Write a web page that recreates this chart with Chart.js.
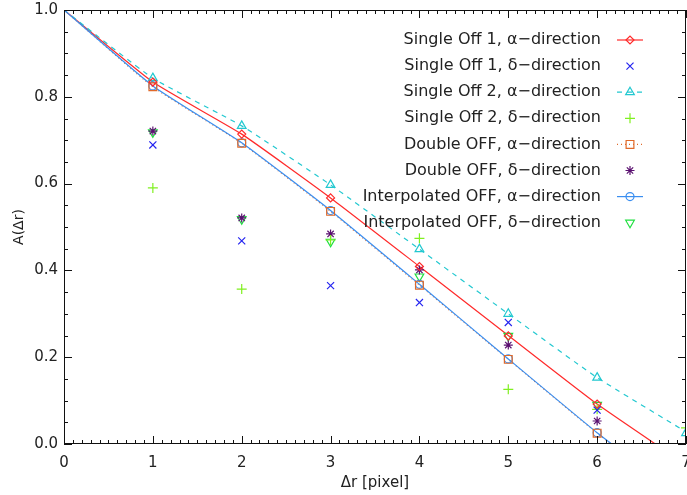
<!DOCTYPE html>
<html><head><meta charset="utf-8">
<script src="https://cdn.jsdelivr.net/npm/chart.js@4/dist/chart.umd.min.js"></script>
<style>html,body{margin:0;padding:0;background:#fff}#wrap{width:687px;height:495px}</style>
</head><body><div id="wrap"><canvas id="c" width="687" height="495"></canvas></div>
<script>
// x positions
const curveR = [0, 1, 2, 3, 4, 5, 6, 7];
const markR = [1, 2, 3, 4, 5, 6, 7];
// fitted curves
const curveSingle1Alpha = [1.0, 0.834, 0.714, 0.567, 0.409, 0.250, 0.092, -0.048];
const curveSingle2Alpha = [1.0, 0.843, 0.733, 0.597, 0.449, 0.300, 0.153, 0.028];
const curveDoubleAlpha  = [1.0, 0.823, 0.693, 0.536, 0.366, 0.195, 0.025, -0.130];
const curveInterpAlpha  = [1.0, 0.825, 0.694, 0.538, 0.368, 0.196, 0.026, -0.130];
// measured points
const single1Alpha = [0.834, 0.714, 0.567, 0.409, 0.249, 0.092, null];
const single1Delta = [0.689, 0.468, 0.365, 0.326, 0.280, 0.078, null];
const single2Alpha = [0.843, 0.733, 0.597, 0.449, 0.300, 0.153, 0.025];
const single2Delta = [0.590, 0.357, 0.470, 0.474, 0.126, 0.080, 0.037];
const doubleAlpha  = [0.823, 0.693, 0.536, 0.366, 0.195, 0.025, null];
const doubleDelta  = [0.721, 0.521, 0.484, 0.401, 0.228, 0.053, null];
const interpAlpha  = [0.825, 0.694, 0.538, 0.368, 0.196, 0.026, null];
const interpDelta  = [0.718, 0.518, 0.466, 0.386, 0.249, 0.090, null];
const xTicks = [0, 1, 2, 3, 4, 5, 6, 7];
const yTicks = [0.0, 0.2, 0.4, 0.6, 0.8, 1.0];

const legendItems = [
  {label:'Single Off 1, \u03b1\u2212direction', color:'#ff2a2a', style:'rectRot', r:4, line:'solid'},
  {label:'Single Off 1, \u03b4\u2212direction', color:'#2424f0', style:'crossRot', r:5, line:null},
  {label:'Single Off 2, \u03b1\u2212direction', color:'#22c8d0', style:'triangle', r:5, line:'dash'},
  {label:'Single Off 2, \u03b4\u2212direction', color:'#80f020', style:'cross', r:5, line:null},
  {label:'Double OFF, \u03b1\u2212direction', color:'#e06a2a', style:'rect', r:5.5, line:'dot'},
  {label:'Double OFF, \u03b4\u2212direction', color:'#5a1070', style:'star', r:4.5, line:null},
  {label:'Interpolated OFF, \u03b1\u2212direction', color:'#3a8ef0', style:'circle', r:4, line:'solid'},
  {label:'Interpolated OFF, \u03b4\u2212direction', color:'#20e040', style:'triangle', r:5, rot:180, line:null}
];
const markerData = [single1Alpha, single1Delta, single2Alpha, single2Delta, doubleAlpha, doubleDelta, interpAlpha, interpDelta];
const dashOf = l => l === 'dash' ? [5,5] : (l === 'dot' ? [1,3] : []);

function pts(xs, ys){ return xs.map((x,i)=>({x:x, y:ys[i]})).filter(p=>p.y!==null); }

const datasets = [];
const curves = [[curveSingle1Alpha,0],[curveSingle2Alpha,2],[curveDoubleAlpha,4],[curveInterpAlpha,6]];
curves.forEach(([c,idx])=>{
  const it = legendItems[idx];
  datasets.push({data:pts(curveR,c), showLine:true, borderColor:it.color, borderWidth:1.2,
    borderDash:dashOf(it.line), pointRadius:0, fill:false, tension:0.15, order:10-idx});
});
legendItems.forEach((it,i)=>{
  datasets.push({data:pts(markR, markerData[i]), showLine:false, pointStyle:it.style,
    pointRadius:it.r, pointRotation:it.rot||0, pointBorderColor:it.color,
    pointBackgroundColor:'rgba(0,0,0,0)', pointBorderWidth:1.2, pointHoverRadius:it.r, order:0});
});

const areaFix = {
  id:'areaFix',
  afterLayout(chart){
    const x = chart.scales.x;
    chart.chartArea.right = 686;
    chart.chartArea.width = chart.chartArea.right - chart.chartArea.left;
    x.right = 686; x.width = x.right - x.left;
    x.configure();
  }
};

const framePlugin = {
  id:'frame',
  afterDraw(chart){
    const {ctx, chartArea:a, scales:{x,y}} = chart;
    ctx.save();
    ctx.strokeStyle = '#111'; ctx.lineWidth = 1;
    ctx.strokeRect(a.left+0.5, a.top+0.5, a.right-a.left-1, a.bottom-a.top-1);
    ctx.beginPath();
    for (let i=0;i<=70;i++){
      const v=i/10, px=Math.round(x.getPixelForValue(v))+0.5, L=(i%10===0)?8:4;
      ctx.moveTo(px,a.bottom); ctx.lineTo(px,a.bottom-L);
      ctx.moveTo(px,a.top); ctx.lineTo(px,a.top+L);
    }
    for (let i=0;i<=20;i++){
      const v=i/20, py=Math.round(y.getPixelForValue(v))+0.5, L=(i%4===0)?8:4;
      ctx.moveTo(a.left,py); ctx.lineTo(a.left+L,py);
      ctx.moveTo(a.right,py); ctx.lineTo(a.right-L,py);
    }
    ctx.stroke();
    // legend
    ctx.font = '16px "DejaVu Sans"';
    ctx.textAlign='right'; ctx.textBaseline='middle';
    legendItems.forEach((it,i)=>{
      const cy = 40 + i*26.1;
      ctx.fillStyle='#222';
      ctx.fillText(it.label, 601, cy);
      ctx.strokeStyle=it.color; ctx.lineWidth=1.2;
      if (it.line){
        ctx.setLineDash(dashOf(it.line));
        ctx.beginPath(); ctx.moveTo(617,cy); ctx.lineTo(643,cy); ctx.stroke();
        ctx.setLineDash([]);
      }
      ctx.fillStyle='rgba(0,0,0,0)';
      Chart.helpers.drawPoint(ctx,{pointStyle:it.style, radius:it.r, rotation:it.rot||0, borderWidth:1.2}, 630, cy);
    });
    ctx.restore();
  }
};

new Chart(document.getElementById('c'), {
  type:'scatter',
  data:{datasets},
  options:{
    responsive:false, animation:false, devicePixelRatio:1,
    layout:{padding:{top:10, right:0, left:0, bottom:0}},
    plugins:{legend:{display:false}, tooltip:{enabled:false}},
    scales:{
      x:{type:'linear', min:0, max:7,
        afterBuildTicks:s=>{s.ticks = xTicks.map(v=>({value:v}));},
        afterFit:s=>{s.height=51; s.paddingLeft=0; s.paddingRight=0;},
        grid:{display:false, drawTicks:false}, border:{display:false},
        ticks:{padding:10, color:'#222', font:{family:'DejaVu Sans', size:15}, callback:v=>String(v), maxRotation:0},
        title:{display:true, text:'\u0394r [pixel]', color:'#222', font:{family:'DejaVu Sans', size:15}, padding:{top:0,bottom:3}}},
      y:{type:'linear', min:0, max:1,
        afterBuildTicks:s=>{s.ticks = yTicks.map(v=>({value:v}));},
        afterFit:s=>{s.width=64; s.paddingTop=0; s.paddingBottom=0;},
        grid:{display:false, drawTicks:false}, border:{display:false},
        ticks:{padding:6, color:'#222', font:{family:'DejaVu Sans', size:15}, callback:v=>Number(v).toFixed(1)},
        title:{display:true, text:'A(\u0394r)', color:'#222', font:{family:'DejaVu Sans', size:14}, padding:{top:10.5,bottom:0}}}
    }
  },
  plugins:[areaFix, framePlugin]
});
</script></body></html>
